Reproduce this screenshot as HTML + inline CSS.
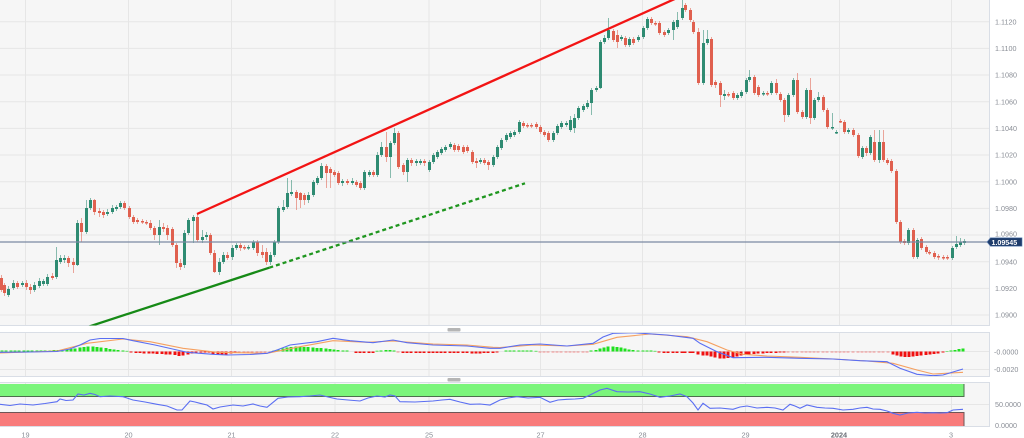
<!DOCTYPE html>
<html><head><meta charset="utf-8"><style>
html,body{margin:0;padding:0;background:#fff;}
svg{display:block;}
text{font-family:"Liberation Sans",Arial,sans-serif;}
</style></head><body>
<svg width="1024" height="438" viewBox="0 0 1024 438" xmlns="http://www.w3.org/2000/svg">
<defs>
<clipPath id="cm"><rect x="0" y="0" width="989" height="325.5"/></clipPath>
<clipPath id="cd"><rect x="0" y="333" width="989" height="43"/></clipPath>
<clipPath id="cr"><rect x="0" y="383" width="989" height="43"/></clipPath>
</defs>
<rect width="1024" height="438" fill="#fff"/>
<!-- panes -->
<rect x="-2" y="-2" width="991.5" height="327.5" fill="#f6f6f6" stroke="#d9dee6" stroke-width="1"/>
<rect x="-2" y="332.5" width="991.5" height="44" fill="#f6f6f6" stroke="#d9dee6" stroke-width="1"/>
<rect x="-2" y="382.5" width="991.5" height="44" fill="#f6f6f6" stroke="#d9dee6" stroke-width="1"/>
<!-- grid -->
<g stroke="#e6e6e6" stroke-width="1">
<path d="M0 21.7H989M0 48.4H989M0 75H989M0 101.7H989M0 128.4H989M0 155H989M0 181.7H989M0 208.4H989M0 235H989M0 261.7H989M0 288.4H989M0 315H989"/>
<path d="M25.5 0V325M128.5 0V325M231.5 0V325M335 0V325M429 0V325M540.5 0V325M642.5 0V325M745.5 0V325M839.5 0V325M951.5 0V325"/>
<path d="M25.5 333V376M128.5 333V376M231.5 333V376M335 333V376M429 333V376M540.5 333V376M642.5 333V376M745.5 333V376M839.5 333V376M951.5 333V376"/>
<path d="M0 351.5H989M0 369.5H989"/>
<path d="M25.5 383V426M128.5 383V426M231.5 383V426M335 383V426M429 383V426M540.5 383V426M642.5 383V426M745.5 383V426M839.5 383V426M951.5 383V426"/>
<path d="M0 404.5H989"/>
</g>
<!-- candles -->
<g clip-path="url(#cm)" fill="none">
<path stroke="#2e8b72" stroke-opacity="0.55" stroke-width="1" d="M8.5 286V297M13.5 280V290M22.5 281V287M34.5 282V292M39.5 278V288M43.5 279V286M47.5 274V286M56.5 247V279M60.5 255V264M64.5 255V263M77.5 220V266M86.5 200V234M90.5 198V210M107.5 209V216M112.5 205V214M116.5 205V211M120.5 201V209M159.5 220V245M184.5 230V268M188.5 218V235M193.5 215V243M202.5 230V243M206.5 232V240M219.5 258V275M223.5 252V264M232.5 245V260M236.5 243V250M248.5 245V250M253.5 240V250M270.5 252V265M274.5 240V257M278.5 206V244M283.5 200V212M287.5 178V209M291.5 180V196M308.5 192V203M313.5 180V197M317.5 176V185M321.5 163V180M342.5 179V186M352.5 178V185M364.5 170V190M369.5 170V177M377.5 152V177M381.5 142V157M390.5 141V178M394.5 128V145M407.5 158V182M416.5 159V166M420.5 159V165M429.5 160V172M433.5 153V164M437.5 150V159M441.5 147V155M445.5 145V152M450.5 142V149M480.5 158V164M493.5 155V167M497.5 145V159M501.5 138V150M506.5 133V142M510.5 131V139M514.5 130V137M519.5 120V134M553.5 131V142M557.5 124V135M561.5 121V129M566.5 121V127M570.5 116V132M574.5 114V133M578.5 106V120M583.5 104V112M587.5 100V109M591.5 88V115M596.5 86V92M600.5 40V89M604.5 35V44M608.5 18V40M621.5 35V41M629.5 37V47M638.5 35V42M643.5 26V39M647.5 17V30M668.5 28V35M673.5 20V40M677.5 12V29M682.5 0V20M703.5 30V85M707.5 30V45M724.5 90V100M737.5 93V100M741.5 90V98M746.5 78V94M749.5 70V82M763.5 91V96M771.5 81V95M788.5 93V117M793.5 78V97M806.5 88V119M814.5 98V120M818.5 92V102M832.5 113V130M836.5 130V134M848.5 128V134M862.5 146V159M870.5 135V155M879.5 130V163M908.5 228V245M917.5 238V259M952.5 246V260M956.5 236V249M960.5 238V247M964.5 239V245"/>
<path stroke="#2e8b72" stroke-width="3" d="M8.5 289V295M13.5 283V288M22.5 283V285M34.5 285V290M39.5 281V286M43.5 281V284M47.5 277V284M56.5 260V277M60.5 258V262M64.5 258V260M77.5 223V265M86.5 208V232M90.5 200V208M107.5 212V214M112.5 208V212M116.5 207V209M120.5 203V207M159.5 227V235M184.5 233V265M188.5 220V233M193.5 217V221M202.5 237V240M206.5 235V237M219.5 262V272M223.5 255V262M232.5 248V257M236.5 245V248M248.5 247V248.5M253.5 242V248M270.5 255V262M274.5 242V255M278.5 208V242M283.5 207V210M287.5 193V207M291.5 192V194M308.5 195V200M313.5 182V195M317.5 178V183M321.5 166V178M342.5 181V183M352.5 181V183M364.5 172V188M369.5 172V175M377.5 155V175M381.5 147V155M390.5 143V157M394.5 133V143M407.5 160V172M416.5 161V163M420.5 161V163M429.5 162V170M433.5 155V162M437.5 152V157M441.5 149V153M445.5 147V150M450.5 144V147M480.5 160V162M493.5 157V165M497.5 147V157M501.5 140V148M506.5 135V140M510.5 133V137M514.5 132V135M519.5 122V132M553.5 133V140M557.5 126V133M561.5 123V127M566.5 123V125M570.5 120V130M574.5 118V128M578.5 108V118M583.5 106V110M587.5 103V107M591.5 90V103M596.5 88V90M600.5 42V88M604.5 38V42M608.5 30V38M621.5 37V39M629.5 39V45M638.5 37V40M643.5 28V37M647.5 19V28M668.5 30V33M673.5 22V30M677.5 20V27M682.5 8V18M703.5 43V83M707.5 39V43M724.5 94V96M737.5 95V98M741.5 92V96M746.5 80V92M749.5 77V80M763.5 93V94.5M771.5 83V93M788.5 95V115M793.5 80V95M806.5 90V117M814.5 100V118M818.5 97V100M832.5 127V128.5M836.5 132V133.5M848.5 130V132M862.5 148V157M870.5 137V153M879.5 142V160M908.5 230V243M917.5 240V257M952.5 248V258M956.5 244V247M960.5 242V245M964.5 241V243"/>
<path stroke="#e0604f" stroke-opacity="0.55" stroke-width="1" d="M1.5 275V292M4.5 283V296M17.5 281V289M26.5 280V290M30.5 284V294M52.5 273V280M68.5 256V267M73.5 258V273M81.5 218V242M94.5 199V215M99.5 208V217M103.5 210V218M124.5 201V210M129.5 206V219M133.5 215V224M137.5 218V224M142.5 219V224M146.5 220V225M150.5 220V230M154.5 226V240M163.5 223V232M167.5 225V240M172.5 227V247M176.5 243V268M180.5 259V270M197.5 214V242M210.5 233V255M214.5 250V273M227.5 252V260M240.5 243V251M244.5 245V250M257.5 240V256M262.5 245V258M266.5 248V265M296.5 190V210M300.5 192V208M304.5 193V205M326.5 164V188M330.5 167V188M334.5 170V177M338.5 171V185M347.5 179V185M356.5 180V187M360.5 181V190M373.5 170V177M386.5 132V162M398.5 131V169M403.5 163V175M411.5 158V166M424.5 159V166M454.5 143V152M458.5 144V152M463.5 145V154M467.5 145V153M472.5 150V164M476.5 158V168M484.5 158V165M488.5 160V170M523.5 121V128M527.5 123V128M531.5 123V128M536.5 122V129M540.5 125V134M544.5 130V137M548.5 131V142M613.5 29V42M617.5 30V48M625.5 36V47M633.5 37V45M651.5 17V25M655.5 21V26M659.5 21V35M664.5 30V37M685.5 3V12M690.5 8V22M693.5 20V34M698.5 28V85M711.5 37V87M715.5 80V88M720.5 81V107M728.5 92V97M733.5 91V100M754.5 75V95M758.5 85V97M767.5 91V96M776.5 79V95M780.5 92V102M784.5 98V122M797.5 73V114M802.5 110V119M810.5 78V124M823.5 95V112M827.5 108V129M840.5 119V123M844.5 120V134M853.5 128V137M858.5 133V158M866.5 146V156M874.5 130V162M883.5 130V162M887.5 158V165M891.5 159V173M896.5 169V224M900.5 220V244M904.5 239V245M913.5 228V259M921.5 237V250M926.5 245V254M929.5 250V255M934.5 251V259M938.5 254V260M943.5 255V260M947.5 255V260"/>
<path stroke="#e0604f" stroke-width="3" d="M1.5 278V290M4.5 285V293M17.5 283V287M26.5 283V287M30.5 287V290M52.5 276V278M68.5 258V263M73.5 262V265M81.5 223V232M94.5 200V212M99.5 211V213M103.5 212V215M124.5 203V208M129.5 208V217M133.5 217V222M137.5 220V222M142.5 221V222.5M146.5 222V223.5M150.5 223V228M154.5 228V235M163.5 227V229M167.5 228V235M172.5 229V245M176.5 245V263M180.5 263V267M197.5 217V240M210.5 235V253M214.5 253V272M227.5 255V258M240.5 245V248M244.5 247V248.5M257.5 242V253M262.5 252V255M266.5 252V262M296.5 192V198M300.5 193V200M304.5 195V200M326.5 166V173M330.5 169V173M334.5 172V175M338.5 173V183M347.5 181V183M356.5 182V185M360.5 183V188M373.5 172V175M386.5 147V157M398.5 133V167M403.5 165V172M411.5 160V163M424.5 161V163M454.5 145V150M458.5 146V150M463.5 147V152M467.5 147V151M472.5 152V162M476.5 161V163M484.5 160V163M488.5 162V165M523.5 123V126M527.5 125V126.5M531.5 125V126.5M536.5 124V127M540.5 127V132M544.5 132V135M548.5 133V140M613.5 31V40M617.5 35V42M625.5 38V45M633.5 39V43M651.5 19V23M655.5 23V24.5M659.5 23V33M664.5 32V35M685.5 5V10M690.5 10V20M693.5 22V32M698.5 32V83M711.5 39V85M715.5 82V85M720.5 83V95M728.5 94V95.5M733.5 93V98M754.5 77V93M758.5 87V95M767.5 93V94.5M776.5 83V93M780.5 94V100M784.5 100V115M797.5 80V112M802.5 112V117M810.5 90V118M823.5 97V110M827.5 110V127M840.5 121V122.5M844.5 122V132M853.5 130V135M858.5 135V156M866.5 148V153M874.5 142V160M883.5 142V160M887.5 160V163M891.5 161V171M896.5 171V222M900.5 222V242M904.5 241V243M913.5 230V257M921.5 239V248M926.5 247V252M929.5 252V253.5M934.5 253V257M938.5 256V257.5M943.5 257V258.5M947.5 257V258.5"/>
<!-- trend lines -->
<line x1="197" y1="214" x2="700" y2="-12.4" stroke="#f21414" stroke-width="2.3"/>
<line x1="84" y1="328.2" x2="269.3" y2="267.7" stroke="#168a16" stroke-width="2.3"/>
<line x1="269.3" y1="267.7" x2="525" y2="183.3" stroke="#1f961f" stroke-width="2.3" stroke-dasharray="4 3"/>
</g>
<!-- price line -->
<line x1="0" y1="242" x2="990" y2="242" stroke="#7b8aa3" stroke-width="1.3"/>
<!-- MACD -->
<g clip-path="url(#cd)" fill="none">
<path stroke="#1fe01f" stroke-width="3" d="M2 351.5V350.5M6 351.5V350.5M11 351.5V350.5M15 351.5V350.5M19 351.5V350.5M24 351.5V350.5M28 351.5V350.5M32 351.5V350.5M37 351.5V350.5M41 351.5V350.5M45 351.5V350.5M50 351.5V350.5M54 351.5V350M58 351.5V350M62 351.5V350M67 351.5V349.5M71 351.5V349M75 351.5V348.5M80 351.5V347.5M84 351.5V347M88 351.5V346.5M93 351.5V346.5M97 351.5V347M101 351.5V347.5M106 351.5V348M110 351.5V349M114 351.5V349.5M118 351.5V350M123 351.5V350.5M127 351.5V350.9M274 351.5V350.5M278 351.5V349.5M283 351.5V348.5M287 351.5V347.5M291 351.5V347M296 351.5V346.5M300 351.5V346.5M304 351.5V347M308 351.5V347M313 351.5V347.5M317 351.5V348M321 351.5V348M326 351.5V348.5M330 351.5V349M334 351.5V349.5M338 351.5V350M343 351.5V350.5M347 351.5V350.5M377 351.5V350.8M381 351.5V350.5M386 351.5V350M390 351.5V350M394 351.5V350.5M506 351.5V350.5M510 351.5V350.5M514 351.5V350.5M519 351.5V350.5M523 351.5V350.5M527 351.5V350.5M531 351.5V350.5M536 351.5V350.9M591 351.5V350.5M596 351.5V350M600 351.5V348.5M604 351.5V347.5M608 351.5V346.5M613 351.5V346.5M617 351.5V347M621 351.5V347.5M625 351.5V348.5M629 351.5V349.5M633 351.5V350M638 351.5V350.5M643 351.5V350.5M647 351.5V350.5M651 351.5V350.5M655 351.5V350.9M947 351.5V351M951 351.5V350.5M955 351.5V350M959 351.5V349M963 351.5V348.5"/>
<path stroke="#f01010" stroke-width="3" d="M131 351.5V352.5M136 351.5V353M140 351.5V353M144 351.5V353.5M149 351.5V353.5M153 351.5V353.5M157 351.5V354M162 351.5V354M166 351.5V354.5M170 351.5V354.5M175 351.5V355M179 351.5V356M183 351.5V355.5M188 351.5V354.5M192 351.5V353.5M196 351.5V352.5M201 351.5V352.5M205 351.5V352.5M209 351.5V352.5M213 351.5V354M218 351.5V354.5M222 351.5V354.5M226 351.5V354.5M231 351.5V353.5M235 351.5V352.5M356 351.5V353M360 351.5V353M364 351.5V353M369 351.5V353M373 351.5V353M403 351.5V353M407 351.5V353M411 351.5V353M416 351.5V353M420 351.5V353M424 351.5V353M429 351.5V353M433 351.5V353M437 351.5V353M441 351.5V353M445 351.5V353M450 351.5V353M454 351.5V353M458 351.5V353M463 351.5V353M467 351.5V353M472 351.5V353.5M476 351.5V353.5M480 351.5V353.5M484 351.5V353M488 351.5V353M493 351.5V353M497 351.5V352.5M659 351.5V352.5M664 351.5V353M668 351.5V353M673 351.5V353M677 351.5V353M682 351.5V353M685 351.5V353M690 351.5V353M693 351.5V353M698 351.5V354.5M703 351.5V355.5M707 351.5V355.5M711 351.5V356.5M715 351.5V357.5M720 351.5V358.5M724 351.5V358.5M728 351.5V358M733 351.5V357.5M737 351.5V356.5M741 351.5V355.5M746 351.5V354.5M749 351.5V354.5M754 351.5V354M758 351.5V353.5M763 351.5V353.5M767 351.5V353M771 351.5V353M776 351.5V353M780 351.5V352.5M784 351.5V352.5M893 351.5V354.5M897 351.5V355.5M901 351.5V356.5M905 351.5V357M909 351.5V357M913 351.5V356.5M917 351.5V356M921 351.5V355.5M926 351.5V355M930 351.5V354.5M934 351.5V354M938 351.5V353.5M943 351.5V352.5"/>
<path stroke="#f01010" stroke-opacity="0.45" stroke-width="3" d="M239 351.5V352.5M244 351.5V352.5M248 351.5V352.5M252 351.5V352.5M257 351.5V352.5M261 351.5V352.5M265 351.5V352.5M270 351.5V352.5M398 351.5V352.5M540 351.5V352.5M544 351.5V352.5M548 351.5V352.5M553 351.5V352.5M557 351.5V352.5M561 351.5V352.5M566 351.5V352.5M570 351.5V352.5M574 351.5V352.5M578 351.5V352.5M583 351.5V352.5M587 351.5V352.5M788 351.5V352.5M793 351.5V352.5M797 351.5V352.5M802 351.5V352.5M806 351.5V352.5M810 351.5V352.5M814 351.5V352.5M818 351.5V352.5M823 351.5V352.5M827 351.5V352.5M832 351.5V352.5M836 351.5V352.5M840 351.5V352.5M844 351.5V352.5M848 351.5V352.5M853 351.5V352.5M858 351.5V352.5M862 351.5V352.5M866 351.5V352.5M870 351.5V352.5M874 351.5V352.5M879 351.5V352.5M883 351.5V352.5M888 351.5V352.5"/>
<polyline stroke="#f5a060" stroke-width="1.1" points="0,353 57,351 87,343.3 123,339 150,341.7 183,348.3 217,352.3 267,353.3 300,346.7 333,340.7 367,342.3 393,341 433,344 467,345 493,347.3 500,347.5 533,345 567,346 593,344.3 617,337.3 650,334 687,336.7 707,341.7 727,350 743,354.3 767,356 800,357.3 833,359 867,361 893,363.3 917,370 933,374 963,372.3"/>
<polyline stroke="#5a6ef2" stroke-width="1.1" points="0,352.3 30,352 57,351.5 70,349 80,345 90,340 100,338.5 123,338.5 133,340.7 155,345 177,350 187,352.3 213,354.3 227,355 250,354.5 267,353.3 277,350 290,345 317,341.7 333,338.3 350,340.7 373,342.7 393,340 407,342.7 433,345 467,346 490,348.3 500,348.3 520,345 540,344 567,346 593,343.3 603,337 613,333.3 633,332.7 667,335 693,338.3 700,343.3 717,351.7 733,357.7 767,357.3 800,358.3 833,359 860,360.7 887,361.7 900,368.3 917,374.3 933,375.7 943,375 963,369"/>
</g>
<!-- RSI -->
<g clip-path="url(#cr)">
<rect x="-2" y="384" width="966" height="12.5" fill="#7bf57b"/>
<path d="M-2 396.5H964V384" fill="none" stroke="#4e6e4e" stroke-width="1"/>
<rect x="-2" y="412.5" width="966" height="15" fill="#f87b7b"/>
<path d="M-2 412.5H964V427" fill="none" stroke="#6e5555" stroke-width="1"/>
<polyline fill="none" stroke="#5a6ef2" stroke-width="1.1" points="0,404.3 10,405.5 20,404 33,405 45,403.5 57,401.7 60,399 66,400.5 73,400 78,394 84,395 90,393.3 95,394.5 100,396.7 110,396 123,396.7 133,400 145,402 157,404.3 167,406 172,408 177,410 182,410 190,401 195,402 200,403.3 207,405 213,409 220,407 233,405 243,406 253,404 260,406 267,407.3 278,398.3 288,397 300,396.7 310,396 320,395 328,397 337,399 348,400 360,401 368,398 377,396 385,397 390,395 395,396 400,401.7 415,402 433,401 442,400 450,399.3 460,402 470,404.3 480,404 490,405 500,400 508,398 517,396.7 528,398 540,397.3 550,402.3 558,400 567,399.3 575,399 583,398.3 590,395 600,390 607,388.3 617,391.7 628,392 640,391.7 650,394 660,397.3 670,396 680,394 687,396.7 693,403 698,410 703,403.3 710,408.3 720,408 733,409.3 740,407 747,406 757,408 767,407.3 775,408 783,410 790,404.3 795,406 800,408.3 807,405 817,407.3 825,408 833,408.3 843,410 853,409.3 860,408 867,407.3 873,409 880,409.3 887,411 893,413.3 900,415 908,413 917,412.3 925,413 933,412.7 940,413 947,412.7 953,410 963,409.3"/>
</g>
<!-- handles -->
<rect x="447.5" y="328" width="13" height="3.5" rx="1" fill="#b5b5b5"/>
<rect x="447.5" y="378" width="13" height="3.5" rx="1" fill="#b5b5b5"/>
<!-- axis labels -->
<g font-size="7.2" fill="#8a8e96">
<text x="995" y="24.3">1.1120</text>
<text x="995" y="51">1.1100</text>
<text x="995" y="77.6">1.1080</text>
<text x="995" y="104.3">1.1060</text>
<text x="995" y="131">1.1040</text>
<text x="995" y="157.6">1.1020</text>
<text x="995" y="184.3">1.1000</text>
<text x="995" y="211">1.0980</text>
<text x="995" y="236.6">1.0960</text>
<text x="995" y="264.3">1.0940</text>
<text x="995" y="291">1.0920</text>
<text x="995" y="317.6">1.0900</text>
<text x="994" y="354.3">-0.0000</text>
<text x="994" y="372.1">-0.0020</text>
<text x="995" y="406.9">50.0000</text>
<text x="995" y="428.1">0.0000</text>
</g>
<!-- current price label -->
<polygon points="987,242 990.5,237.8 1022,237.8 1022,246.2 990.5,246.2" fill="#1e3c6b" stroke="#5a7cb0" stroke-width="0.6"/>
<text x="991.5" y="244.8" font-size="7.1" font-weight="bold" fill="#ffffff">1.09545</text>
<!-- date labels -->
<g font-size="7.3" fill="#8a8e96" text-anchor="middle">
<text x="25.5" y="437.5">19</text>
<text x="128.5" y="437.5">20</text>
<text x="231.5" y="437.5">21</text>
<text x="335" y="437.5">22</text>
<text x="429" y="437.5">25</text>
<text x="540.5" y="437.5">27</text>
<text x="642.5" y="437.5">28</text>
<text x="745.5" y="437.5">29</text>
<text x="839" y="437.5" font-weight="bold" fill="#6a6e76">2024</text>
<text x="951" y="437.5">3</text>
</g>
</svg>
</body></html>
